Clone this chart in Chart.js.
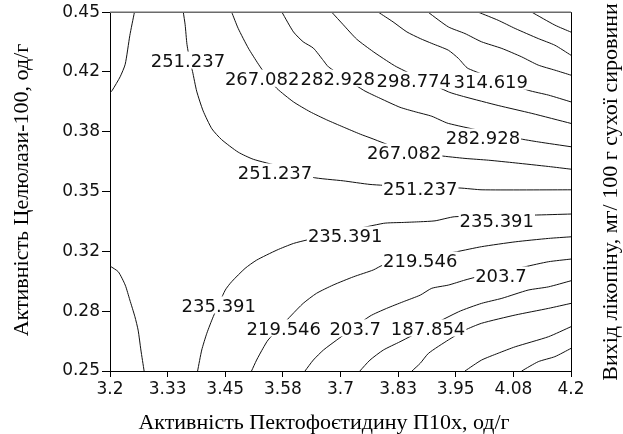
<!DOCTYPE html>
<html>
<head>
<meta charset="utf-8">
<script src="https://cdn.jsdelivr.net/npm/chart.js@4.4.1/dist/chart.umd.min.js"></script>
<style>
  html, body { margin: 0; padding: 0; background: #fff; }
  #wrap { width: 623px; height: 434px; }
</style>
</head>
<body>
<div id="wrap"><canvas id="contour" width="623" height="434"></canvas></div>
<script>
// Axis ticks
const xTickValues = [3.2, 3.325, 3.45, 3.575, 3.7, 3.825, 3.95, 4.075, 4.2];
const xTickLabels = ['3.2', '3.33', '3.45', '3.58', '3.7', '3.83', '3.95', '4.08', '4.2'];
const yTickValues = [0.25, 0.28333, 0.31667, 0.35, 0.38333, 0.41667, 0.45];
const yTickLabels = ['0.25', '0.28', '0.32', '0.35', '0.38', '0.42', '0.45'];

const xTitle = 'Активність Пектофоєтидину П10х, од/г';
const yTitle = 'Активність Целюлази-100, од/г';
const zTitle = 'Вихід лікопіну, мг/ 100 г сухої сировини';

// Contour lines, [x, y] points
const lineTopLeft = [[3.2, 0.405], [3.205, 0.4065], [3.222, 0.414], [3.233, 0.421], [3.243, 0.437], [3.253, 0.45]];
const line251 = [[3.359, 0.45], [3.363, 0.443], [3.367, 0.432], [3.374, 0.422], [3.379, 0.417], [3.388, 0.406], [3.402, 0.395], [3.421, 0.385], [3.442, 0.379], [3.478, 0.372], [3.511, 0.368], [3.569, 0.364], [3.638, 0.358], [3.706, 0.356], [3.764, 0.354], [3.829, 0.353], [3.894, 0.352], [3.959, 0.352], [4.007, 0.351], [4.2, 0.351]];
const line267 = [[3.464, 0.45], [3.478, 0.441], [3.5, 0.43], [3.522, 0.421], [3.541, 0.414], [3.562, 0.4075], [3.598, 0.4], [3.634, 0.3945], [3.67, 0.39], [3.706, 0.386], [3.743, 0.382], [3.764, 0.38], [3.838, 0.373], [3.916, 0.37], [3.97, 0.3685], [4.021, 0.3675], [4.079, 0.366], [4.151, 0.364], [4.2, 0.3625]];
const line283 = [[3.573, 0.45], [3.598, 0.439], [3.619, 0.4335], [3.641, 0.43], [3.663, 0.423], [3.674, 0.4195], [3.75, 0.4065], [3.786, 0.402], [3.829, 0.397], [3.862, 0.3945], [3.898, 0.392], [3.934, 0.388], [4.086, 0.3796], [4.129, 0.3777], [4.2, 0.375]];
const line299 = [[3.681, 0.45], [3.706, 0.443], [3.735, 0.435], [3.771, 0.428], [3.8, 0.423], [3.822, 0.4195], [3.934, 0.4056], [3.97, 0.4028], [4.042, 0.398], [4.115, 0.3936], [4.2, 0.388]];
const line315 = [[3.782, 0.45], [3.814, 0.4446], [3.844, 0.439], [3.873, 0.4353], [3.898, 0.4326], [3.934, 0.4288], [3.956, 0.4242], [3.977, 0.4186], [4.107, 0.4065], [4.151, 0.4038], [4.2, 0.4]];
const line330 = [[3.89, 0.45], [3.934, 0.4418], [3.97, 0.4381], [4.006, 0.4335], [4.05, 0.4298], [4.093, 0.4251], [4.129, 0.4205], [4.165, 0.4177], [4.2, 0.4149]];
const line346 = [[3.999, 0.45], [4.042, 0.4455], [4.079, 0.4409], [4.129, 0.4353], [4.165, 0.4316], [4.2, 0.426]];
const line362 = [[4.115, 0.45], [4.165, 0.4428], [4.2, 0.4389]];
const lineBottomLeft = [[3.2, 0.3085], [3.218, 0.3053], [3.233, 0.2979], [3.243, 0.2896], [3.254, 0.2803], [3.261, 0.2728], [3.267, 0.2617], [3.274, 0.25]];
const line235 = [[3.39, 0.25], [3.399, 0.2617], [3.41, 0.271], [3.424, 0.2803], [3.45, 0.2951], [3.464, 0.2998], [3.493, 0.3072], [3.518, 0.3118], [3.562, 0.3174], [3.598, 0.3211], [3.627, 0.323], [3.793, 0.3323], [3.836, 0.3328], [3.873, 0.3332], [3.905, 0.3337], [3.948, 0.336], [4.118, 0.3369], [4.2, 0.3375]];
const line220 = [[3.507, 0.25], [3.518, 0.2561], [3.532, 0.2627], [3.543, 0.2673], [3.594, 0.2812], [3.619, 0.2877], [3.648, 0.2933], [3.684, 0.2979], [3.728, 0.3025], [3.771, 0.3063], [3.793, 0.3091], [3.952, 0.3165], [4.006, 0.3193], [4.079, 0.322], [4.151, 0.3239], [4.2, 0.3248]];
const line204 = [[3.623, 0.25], [3.641, 0.2561], [3.663, 0.2617], [3.692, 0.2673], [3.764, 0.2806], [3.8, 0.2849], [3.836, 0.2886], [3.873, 0.2923], [3.898, 0.2961], [3.934, 0.2979], [3.97, 0.3007], [3.992, 0.3022], [4.1, 0.3081], [4.151, 0.3109], [4.2, 0.3124]];
const line188 = [[3.742, 0.25], [3.764, 0.2561], [3.793, 0.2617], [3.829, 0.2663], [3.956, 0.283], [4.006, 0.2877], [4.05, 0.2905], [4.107, 0.2951], [4.151, 0.2969], [4.2, 0.3003]];
const line172 = [[3.855, 0.25], [3.873, 0.2543], [3.891, 0.2599], [3.934, 0.2673], [3.97, 0.2728], [4.006, 0.2766], [4.079, 0.2812], [4.151, 0.2849], [4.2, 0.2877]];
const line156 = [[3.97, 0.25], [4.006, 0.2561], [4.042, 0.2599], [4.079, 0.2635], [4.151, 0.2691], [4.2, 0.2747]];
const line140 = [[4.093, 0.25], [4.129, 0.2552], [4.165, 0.258], [4.2, 0.2626]];

const contourLines = [lineTopLeft, line251, line267, line283, line299, line315, line330, line346, line362,
  lineBottomLeft, line235, line220, line204, line188, line172, line156, line140];

// Level labels: text, x, y
const levelLabels = [
  ['251.237', 3.369, 0.4233],
  ['267.082', 3.530, 0.4132],
  ['282.928', 3.694, 0.4132],
  ['298.774', 3.859, 0.4121],
  ['314.619', 4.026, 0.4116],
  ['282.928', 4.009, 0.3804],
  ['267.082', 3.838, 0.372],
  ['251.237', 3.558, 0.3609],
  ['251.237', 3.873, 0.352],
  ['235.391', 4.039, 0.3341],
  ['235.391', 3.710, 0.3258],
  ['219.546', 3.873, 0.3118],
  ['203.7', 4.048, 0.3035],
  ['235.391', 3.436, 0.2868],
  ['219.546', 3.577, 0.274],
  ['203.7', 3.732, 0.274],
  ['187.854', 3.890, 0.274]
];

const tickFont = { family: 'DejaVu Sans', size: 17 };
const labelFontSize = 18;
const titleFont = '22px "Liberation Serif"';

const framePlugin = {
  id: 'frame',
  afterDatasetsDraw(chart) {
    const { ctx, chartArea: a } = chart;
    ctx.save();
    ctx.lineWidth = 1.5;
    ctx.strokeStyle = '#6b6b6b';
    ctx.beginPath();
    ctx.moveTo(a.left, a.top);
    ctx.lineTo(a.right, a.top);
    ctx.stroke();
    ctx.lineWidth = 1;
    ctx.strokeStyle = '#000';
    ctx.beginPath();
    ctx.moveTo(a.right + 0.5, a.top);
    ctx.lineTo(a.right + 0.5, a.bottom);
    ctx.stroke();
    ctx.restore();
  }
};

const levelLabelPlugin = {
  id: 'levelLabels',
  afterDatasetsDraw(chart) {
    const { ctx, scales: { x, y } } = chart;
    ctx.save();
    ctx.font = labelFontSize + 'px "DejaVu Sans"';
    ctx.textAlign = 'center';
    ctx.textBaseline = 'alphabetic';
    const capH = labelFontSize * 0.73;
    levelLabels.forEach(([txt, vx, vy]) => {
      const px = x.getPixelForValue(vx);
      const py = y.getPixelForValue(vy);
      const w = ctx.measureText(txt).width;
      ctx.fillStyle = '#fff';
      ctx.fillRect(px - w / 2 - 1, py - capH / 2 - 2, w + 2, capH + 4);
      ctx.fillStyle = '#111';
      ctx.fillText(txt, px, py + capH / 2);
    });
    ctx.restore();
  }
};

const titlePlugin = {
  id: 'axisTitles',
  afterDraw(chart) {
    const { ctx } = chart;
    ctx.save();
    ctx.font = titleFont;
    ctx.fillStyle = '#000';
    ctx.textAlign = 'center';
    ctx.textBaseline = 'alphabetic';
    ctx.fillText(xTitle, 324, 429);

    ctx.translate(28, 190);
    ctx.rotate(-Math.PI / 2);
    ctx.fillText(yTitle, 0, 0);
    ctx.restore();

    ctx.save();
    ctx.font = titleFont;
    ctx.fillStyle = '#000';
    ctx.textAlign = 'center';
    ctx.translate(617, 192);
    ctx.rotate(-Math.PI / 2);
    ctx.fillText(zTitle, 0, 0);
    ctx.restore();
  }
};

const ctx = document.getElementById('contour').getContext('2d');
new Chart(ctx, {
  type: 'scatter',
  data: {
    datasets: contourLines.map((pts, i) => ({
      label: 'c' + i,
      data: pts.map(p => ({ x: p[0], y: p[1] })),
      showLine: true,
      borderColor: '#111',
      borderWidth: 1,
      pointRadius: 0,
      tension: 0.2,
      fill: false
    }))
  },
  options: {
    responsive: false,
    animation: false,
    devicePixelRatio: 1,
    layout: { padding: { top: 12, right: 52, left: 0, bottom: 0 } },
    plugins: { legend: { display: false }, tooltip: { enabled: false } },
    scales: {
      x: {
        type: 'linear',
        min: 3.2,
        max: 4.2,
        afterBuildTicks: s => { s.ticks = xTickValues.map(v => ({ value: v })); },
        afterFit: s => { s.height = 63; },
        grid: { drawOnChartArea: false, drawTicks: true, tickLength: 6, color: '#000' },
        border: { color: '#000', width: 1 },
        ticks: {
          callback: (v, i) => xTickLabels[i],
          color: '#111',
          font: tickFont,
          padding: 2,
          maxRotation: 0,
          autoSkip: false
        }
      },
      y: {
        type: 'linear',
        min: 0.25,
        max: 0.45,
        afterBuildTicks: s => { s.ticks = yTickValues.map(v => ({ value: v })); },
        afterFit: s => { s.width = 110; },
        grid: { drawOnChartArea: false, drawTicks: true, tickLength: 8, color: '#000' },
        border: { color: '#000', width: 1 },
        ticks: {
          callback: (v, i) => yTickLabels[i],
          color: '#111',
          font: tickFont,
          padding: 2,
          autoSkip: false
        }
      }
    }
  },
  plugins: [framePlugin, levelLabelPlugin, titlePlugin]
});
</script>
</body>
</html>
